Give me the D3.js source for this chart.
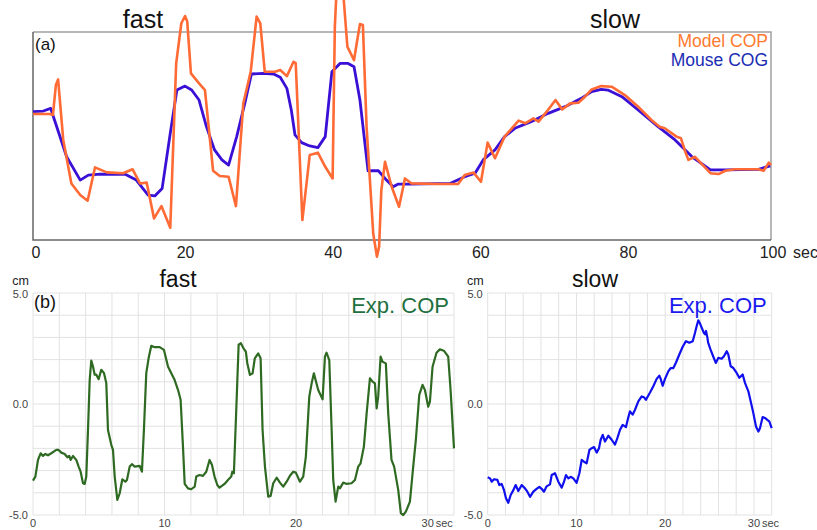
<!DOCTYPE html>
<html>
<head>
<meta charset="utf-8">
<script src="https://cdn.jsdelivr.net/npm/d3@7"></script>
<style>
  body { margin: 0; background: #fff; }
  text { font-family: "Liberation Sans", Arial, sans-serif; }
</style>
</head>
<body>
<svg id="chart" width="817" height="530"></svg>
<script>
// (a) model vs mouse, 0-100 sec, arbitrary units (0 = axis, 100 = top border)
var modelCOP = [[0,60.6],[2.3,60.6],[2.7,60.1],[3.1,74.5],[3.4,77.2],[4.1,48.1],[5.2,27.2],[6.4,21.6],[7.4,18.9],[8.4,34.9],[10.0,32.5],[12.2,32.1],[13.5,34],[14.5,27.2],[15.4,27.6],[16.4,10.4],[17.4,16.3],[18.6,5.9],[19.4,84.9],[20.1,104.2],[20.6,107.7],[20.9,105],[21.4,80.1],[22.5,75.3],[23.3,72.1],[24.4,33.3],[25.3,30.8],[26.5,30.4],[27.5,16.3],[28.5,65.7],[29.5,80.9],[30.3,107.4],[30.8,104.2],[31.4,80.9],[32.8,80.9],[33.5,81.7],[34.4,78.8],[35.3,85.7],[35.6,85],[36.5,9.6],[37.5,40.9],[38.6,42],[39.6,35.2],[40.6,29.6],[40.9,102.6],[41.2,125],[41.9,125],[42.6,92.9],[43.5,86.5],[43.9,95.3],[44.3,103.8],[44.7,103.4],[45.2,54.5],[46.1,3.2],[46.6,-8],[46.9,-3.2],[47.2,24],[47.7,37.6],[48.6,25.6],[49.6,16],[50.4,29.6],[51.3,27.2],[54.9,26.9],[57.6,26.9],[58.5,31.2],[59.7,32.4],[60.7,28],[61.6,46.8],[62.6,39.3],[63.9,49.7],[65.8,57.4],[66.7,56.1],[67.8,58.5],[68.5,56.9],[69.6,61.7],[70.8,67.3],[71.7,62.8],[72.8,65.7],[73.9,66],[74.8,68.9],[75.7,72.4],[77.0,74],[78.4,73.7],[80.2,69.7],[82.0,64.1],[83.8,57.7],[84.9,54.5],[85.6,53.7],[87.2,49.7],[87.8,48.9],[88.3,43.3],[88.8,38.5],[89.7,40],[91.8,32.1],[92.9,31.7],[93.8,33.3],[95.1,34],[98.3,34],[99.0,33.3],[99.7,37.2],[100,36]];

var mouseCOG = [[0,61.7],[1.4,62],[2.4,63.3],[2.7,60],[4.56,40],[6.4,28.8],[7.5,31.2],[9.1,31.7],[12.5,31.6],[14.0,28.8],[15.6,21.6],[16.5,21.2],[17.5,24.8],[18.6,51.3],[19.5,72.1],[20.6,74],[21.5,72.1],[22.5,67.3],[23.5,54.5],[24.6,43.3],[25.6,38.5],[26.5,36],[27.6,49.7],[28.7,65.7],[29.6,79.8],[31.2,80.1],[32.6,79.8],[33.5,78.2],[34.4,72.9],[35.0,62.5],[35.5,50.5],[36.4,46.8],[37.5,45.2],[38.6,44.4],[39.6,49.7],[40.5,80.9],[41.6,84.9],[42.7,84.9],[43.5,83.3],[44.3,67.3],[45.4,33.3],[46.8,33.3],[47.9,28.8],[48.8,25.6],[49.5,26.9],[51.1,26.9],[56.5,27.2],[58.5,30.4],[59.9,32.1],[61.0,38.5],[62.6,43.3],[63.9,49.7],[65.3,53.7],[67.5,56.9],[69.8,60.9],[72.1,64.1],[74.3,68.1],[75.7,71.3],[77.0,72.4],[77.9,72.1],[79.8,68.9],[82.0,62.5],[84.7,54.5],[87.0,48.1],[89.3,40],[91.8,33.7],[93.8,33.7],[98.3,34],[99.9,35.6]];

var topTicks = [0, 20, 40, 60, 80, 100];

// (b) experiment, cm over 0-32 sec
var fastExpCOP = [[0,-3.45],[0.18,-3.27],[0.38,-2.52],[0.58,-2.22],[0.76,-2.34],[0.94,-2.25],[1.14,-2.31],[1.39,-2.22],[1.77,-2.07],[1.95,-2.07],[2.15,-2.19],[2.41,-2.25],[2.61,-2.4],[2.76,-2.34],[2.86,-2.52],[3.04,-2.34],[3.29,-2.52],[3.47,-2.82],[3.62,-3.05],[3.8,-3.57],[3.93,-3.6],[4.05,-3.27],[4.18,-1.17],[4.31,1.09],[4.43,1.96],[4.56,1.69],[4.69,1.32],[4.81,1.32],[4.99,1.12],[5.19,1.54],[5.4,1.39],[5.57,0.94],[5.7,-1.17],[5.95,-1.84],[6.08,-2.07],[6.21,-3.27],[6.41,-4.32],[6.59,-4.02],[6.79,-3.39],[7.02,-3.5],[7.14,-3.42],[7.35,-2.82],[7.52,-2.71],[7.73,-2.82],[8.11,-2.79],[8.28,-3.05],[8.43,-1.17],[8.61,1.39],[8.79,2.07],[8.99,2.62],[9.25,2.56],[9.63,2.56],[9.95,2.44],[10.26,1.69],[10.51,1.39],[10.76,1.09],[11.02,0.64],[11.22,0.19],[11.4,-1.92],[11.53,-3.6],[11.78,-3.8],[12.03,-3.84],[12.29,-3.72],[12.41,-3.27],[12.66,-3.2],[12.92,-3.24],[13.17,-3.05],[13.42,-2.52],[13.6,-2.74],[13.8,-3.27],[14.01,-3.65],[14.18,-3.77],[14.56,-3.6],[14.82,-3.42],[15.07,-3.27],[15.15,-3.05],[15.27,-3.12],[15.45,-0.26],[15.63,2.67],[15.8,2.74],[16.0,2.51],[16.18,2.36],[16.29,1.83],[16.49,1.31],[16.69,1.38],[16.86,2.06],[17.12,2.28],[17.3,2.06],[17.45,-1.17],[17.63,-2.82],[17.88,-4.17],[18.06,-4.14],[18.26,-3.57],[18.52,-3.32],[18.77,-3.54],[19.02,-3.72],[19.28,-3.5],[19.53,-3.23],[19.78,-3.05],[19.98,-3.09],[20.29,-3.5],[20.54,-3.27],[20.74,-2.37],[21.0,0.33],[21.18,0.93],[21.35,1.38],[21.68,0.63],[22.01,0.21],[22.19,2.13],[22.31,2.31],[22.52,1.98],[22.7,-1.17],[22.82,-3.42],[23.0,-4.4],[23.2,-3.72],[23.33,-3.8],[23.58,-3.54],[23.84,-3.6],[24.21,-3.57],[24.47,-3.42],[24.72,-2.82],[24.9,-2.67],[25.15,-1.92],[25.36,-0.42],[25.61,1.16],[25.81,1.01],[25.99,0.93],[26.12,-0.2],[26.24,0.33],[26.42,2.13],[26.57,1.9],[26.82,1.83],[27.0,-0.42],[27.25,-2.52],[27.45,-2.82],[27.76,-3.87],[27.96,-4.92],[28.14,-5.0],[28.34,-4.85],[28.65,-4.4],[28.9,-2.82],[29.1,-1.62],[29.36,0.41],[29.61,0.86],[29.79,0.63],[30.04,-0.12],[30.17,0.11],[30.37,1.68],[30.67,2.31],[30.92,2.46],[31.23,2.4],[31.56,2.13],[31.74,0.63],[32.0,-2.0]];

var slowExpCOP = [[0,-3.3],[0.26,-3.35],[0.45,-3.5],[0.71,-3.39],[1.09,-3.42],[1.31,-3.65],[1.57,-3.6],[1.84,-3.88],[2.06,-4.25],[2.32,-4.45],[2.59,-4.1],[2.89,-3.88],[3.15,-3.65],[3.45,-3.92],[3.83,-3.65],[4.2,-3.8],[4.47,-3.95],[4.77,-4.18],[5.14,-3.95],[5.51,-3.82],[5.82,-3.73],[6.08,-3.82],[6.34,-3.95],[6.64,-3.71],[7.02,-3.62],[7.21,-3.2],[7.58,-3.12],[7.96,-3.5],[8.34,-3.77],[8.6,-3.5],[8.82,-3.2],[9.09,-3.35],[9.35,-3.28],[9.65,-3.35],[10.02,-3.55],[10.33,-3.12],[10.59,-2.52],[10.85,-2.6],[11.15,-2.67],[11.46,-2.07],[11.72,-1.99],[11.98,-1.94],[12.28,-2.19],[12.54,-1.99],[12.73,-1.61],[12.96,-1.39],[13.22,-1.69],[13.59,-1.43],[13.97,-1.61],[14.34,-1.83],[14.61,-1.54],[14.91,-1.16],[15.21,-0.94],[15.58,-1.04],[15.85,-0.59],[16.03,-0.33],[16.33,-0.48],[16.6,-0.26],[16.97,0.12],[17.35,0.34],[17.61,0.3],[17.83,0.19],[18.29,0.52],[18.66,0.8],[19.04,1.13],[19.34,1.28],[19.49,1.13],[19.71,0.82],[19.98,1.13],[20.35,1.47],[20.61,1.62],[20.92,1.62],[21.22,1.87],[21.59,2.23],[21.97,2.58],[22.34,2.83],[22.72,2.76],[23.1,2.83],[23.36,3.21],[23.54,3.5],[23.73,3.77],[23.95,3.6],[24.11,3.44],[24.35,3.21],[24.49,3.14],[24.6,3.29],[24.75,3.0],[24.84,2.76],[25.1,2.46],[25.4,2.15],[25.7,1.85],[25.99,2.08],[26.36,2.04],[26.62,2.15],[26.93,2.38],[27.11,2.23],[27.38,1.7],[27.68,1.62],[28.05,1.4],[28.35,1.18],[28.73,1.33],[28.99,0.95],[29.37,0.57],[29.63,0.12],[29.93,-0.41],[30.23,-1.01],[30.5,-1.24],[30.68,-1.09],[30.98,-0.59],[31.24,-0.63],[31.5,-0.71],[31.73,-0.78],[32.0,-1.09]];

var expXTicks = [0, 10, 20, 30];
var expYTicks = [5, 0, -5];

var svg = d3.select("#chart");

// ---------- panel (a) ----------
var xa = d3.scaleLinear().domain([0, 100]).range([33, 771]);
var ya = d3.scaleLinear().domain([0, 100]).range([240, 32]);

svg.append("path")
  .attr("d", "M" + xa(0) + "," + ya(100) + "H" + xa(100) + "V" + ya(0))
  .attr("fill", "none").attr("stroke", "#a0a0a0").attr("stroke-width", 1.5);
svg.append("path")
  .attr("d", "M" + xa(0) + "," + ya(100) + "V" + ya(0) + "H" + xa(100))
  .attr("fill", "none").attr("stroke", "#666").attr("stroke-width", 1.5);

svg.selectAll(".tka").data(topTicks).enter().append("text")
  .attr("x", function (d) { return d == 0 ? xa(d) + 3 : xa(d) + (d == 100 ? 2 : 5); })
  .attr("y", 258)
  .attr("text-anchor", "middle")
  .attr("font-size", "16px")
  .attr("fill", "#222")
  .text(function (d) { return d; });
svg.append("text").attr("x", xa(100) + 22).attr("y", 258)
  .attr("font-size", "16px").attr("fill", "#222").text("sec");

var linea = d3.line()
  .x(function (d) { return xa(d[0]); })
  .y(function (d) { return ya(d[1]); });

svg.append("path").datum(mouseCOG).attr("d", linea)
  .attr("fill", "none").attr("stroke", "#3b10d6").attr("stroke-width", 2.8)
  .attr("stroke-linejoin", "round");
svg.append("path").datum(modelCOP).attr("d", linea)
  .attr("fill", "none").attr("stroke", "#ff6a35").attr("stroke-width", 2.6)
  .attr("stroke-linejoin", "round");

svg.append("text").attr("x", 35).attr("y", 50).attr("font-size", "17px").attr("fill", "#111").text("(a)");
svg.append("text").attr("x", 143).attr("y", 28).attr("text-anchor", "middle").attr("font-size", "25px").attr("fill", "#111").text("fast");
svg.append("text").attr("x", 615).attr("y", 28).attr("text-anchor", "middle").attr("font-size", "25px").attr("fill", "#111").text("slow");
svg.append("text").attr("x", 768).attr("y", 46.5).attr("text-anchor", "end").attr("font-size", "17.5px").attr("fill", "#ff7a30").text("Model COP");
svg.append("text").attr("x", 768).attr("y", 66).attr("text-anchor", "end").attr("font-size", "17.5px").attr("fill", "#1a2db3").text("Mouse COG");

// ---------- panel (b) ----------
function expPanel(x0, x1, data, color, title, titleX, labelColor, showB) {
  var x = d3.scaleLinear().domain([0, 32]).range([x0, x1]);
  var y = d3.scaleLinear().domain([-5, 5]).range([515, 293]);
  var g = svg.append("g");

  g.selectAll(".vg").data(d3.range(0, 33, 2)).enter().append("line")
    .attr("x1", function (d) { return x(d); }).attr("x2", function (d) { return x(d); })
    .attr("y1", y(5)).attr("y2", y(-5))
    .attr("stroke", "#e2e2e2").attr("stroke-width", 1);
  g.selectAll(".hg").data(d3.range(-5, 6, 1)).enter().append("line")
    .attr("x1", x(0)).attr("x2", x(32))
    .attr("y1", function (d) { return y(d); }).attr("y2", function (d) { return y(d); })
    .attr("stroke", "#e2e2e2").attr("stroke-width", 1);

  g.selectAll(".xl").data(expXTicks).enter().append("text")
    .attr("x", function (d) { return x(d); })
    .attr("y", 527)
    .attr("text-anchor", "middle")
    .attr("font-size", "11px").attr("fill", "#444")
    .text(function (d) { return d; });
  g.append("text").attr("x", x(30) + 8).attr("y", 527)
    .attr("font-size", "11px").attr("fill", "#444").text("sec");

  g.selectAll(".yl").data(expYTicks).enter().append("text")
    .attr("x", x0 - 5)
    .attr("y", function (d) { return y(d) + (d == 5 ? 5 : 4); })
    .attr("text-anchor", "end")
    .attr("font-size", "11px").attr("fill", "#444")
    .text(function (d) { return d.toFixed(1); });
  g.append("text").attr("x", x0 - 4).attr("y", 285)
    .attr("text-anchor", "end").attr("font-size", "12.5px").attr("fill", "#222").text("cm");

  var line = d3.line()
    .x(function (d) { return x(d[0]); })
    .y(function (d) { return y(d[1]); });
  g.append("path").datum(data).attr("d", line)
    .attr("fill", "none").attr("stroke", color).attr("stroke-width", 2.2)
    .attr("stroke-linejoin", "round");

  g.append("text").attr("x", titleX).attr("y", 287).attr("text-anchor", "middle")
    .attr("font-size", "23px").attr("fill", "#111").text(title);
  g.append("text").attr("x", x1 - 5).attr("y", 313).attr("text-anchor", "end")
    .attr("font-size", "22px").attr("fill", labelColor).text("Exp. COP");
  if (showB) {
    g.append("text").attr("x", 34).attr("y", 308).attr("font-size", "18px").attr("fill", "#111").text("(b)");
  }
}

expPanel(33, 454, fastExpCOP, "#2f6a22", "fast", 178, "#1f7040", true);
expPanel(487.7, 771.7, slowExpCOP, "#1010ee", "slow", 595, "#1a1aee", false);
</script>
</body>
</html>
